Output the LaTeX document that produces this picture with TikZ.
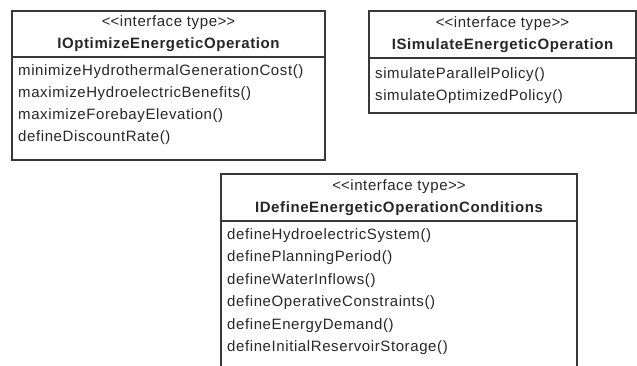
\documentclass[tikz,border=0pt]{standalone}
\usepackage{fontspec}
\setmainfont{Liberation Sans}[LetterSpace=4]
\newcommand{\stereo}{<\kern0pt<interface type>\kern0pt>}
\begin{document}
\begin{tikzpicture}[x=1pt,y=-1pt,
    classbox/.style={draw=black!78,line width=1.3pt,inner sep=0pt},
    divider/.style={draw=black!78,line width=1.2pt},
    every node/.style={font=\fontsize{15}{17}\selectfont,text=black!85}]

  \useasboundingbox (0,0) rectangle (637,365);

  % class boxes
  \begin{scope}[every node/.style={classbox}]
    \node[minimum width=313pt,minimum height=149pt] (opt) at (168.5,85.5) {};
    \node[minimum width=267pt,minimum height=102pt] (sim) at (502.5,62) {};
    \node[minimum width=356pt,minimum height=198pt] (cond) at (399,273) {};
  \end{scope}

  % header dividers
  \coordinate (optL) at (12,57);    \coordinate (optR) at (325,57);
  \coordinate (simL) at (369,58);   \coordinate (simR) at (636,58);
  \coordinate (condL) at (221,221); \coordinate (condR) at (577,221);
  \draw[divider] (optL) -- (optR);
  \draw[divider] (simL) -- (simR);
  \draw[divider] (condL) -- (condR);

  % headers
  \begin{scope}[every node/.style={anchor=base,inner sep=0pt,
      font=\fontsize{15}{17}\selectfont,text=black!85}]
    \node (optst)  at (168.5,26) {\stereo};
    \node (optnm)  at (168.5,48) {\bfseries IOptimizeEnergeticOperation};
    \node (simst)  at (502.5,27) {\stereo};
    \node (simnm)  at (502.5,49) {\bfseries ISimulateEnergeticOperation};
    \node (condst) at (399,190) {\stereo};
    \node (condnm) at (399,212) {\bfseries IDefineEnergeticOperationConditions};
  \end{scope}

  % operations
  \begin{scope}[every node/.style={anchor=base west,inner sep=0pt,
      font=\fontsize{15}{17}\selectfont,text=black!85}]
    \node (opt1) at (18,75)  {minimizeHydrothermalGenerationCost()};
    \node (opt2) at (18,97)  {maximizeHydroelectricBenefits()};
    \node (opt3) at (18,119) {maximizeForebayElevation()};
    \node (opt4) at (18,141) {defineDiscountRate()};

    \node (sim1) at (375,78)  {simulateParallelPolicy()};
    \node (sim2) at (375,100) {simulateOptimizedPolicy()};

    \node (cond1) at (227,239)   {defineHydroelectricSystem()};
    \node (cond2) at (227,261.5) {definePlanningPeriod()};
    \node (cond3) at (227,284)   {defineWaterInflows()};
    \node (cond4) at (227,306.5) {defineOperativeConstraints()};
    \node (cond5) at (227,329)   {defineEnergyDemand()};
    \node (cond6) at (227,351.5) {defineInitialReservoirStorage()};
  \end{scope}

\end{tikzpicture}
\end{document}
